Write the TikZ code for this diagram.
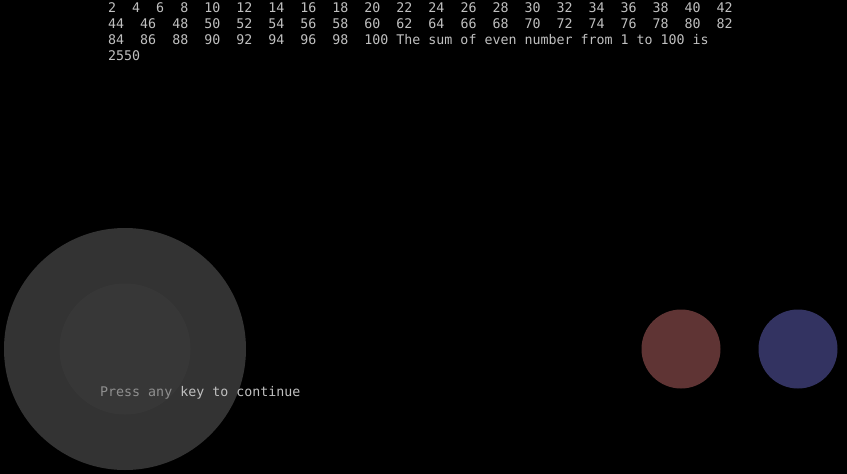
\documentclass[tikz,border=0pt]{standalone}
\usepackage{fontspec}
\setmonofont{DejaVu Sans Mono}
\definecolor{term}{HTML}{C0C0C0}
\definecolor{padring}{HTML}{333333}
\definecolor{knob}{HTML}{404040}
\definecolor{btnred}{HTML}{5F3434}
\definecolor{btnblue}{HTML}{333361}

\begin{document}
\begin{tikzpicture}[x=1pt,y=-1pt]
      \fill[black] (0,0) rectangle (847,474);
      \useasboundingbox (0,0) rectangle (847,474);
      \begin{scope}[every node/.style={circle,inner sep=0pt}]
        \node[fill=padring,minimum size=242] (pad) at (125,349) {};
      \end{scope}
      \begin{scope}[every node/.style={anchor=base west,inner sep=0pt,text=term,
          font=\ttfamily\fontsize{13.3}{16}\selectfont}]
        \node (l1) at (108,12) {2~~4~~6~~8~~10~~12~~14~~16~~18~~20~~22~~24~~26~~28~~30~~32~~34~~36~~38~~40~~42};
        \node (l2) at (108,28) {44~~46~~48~~50~~52~~54~~56~~58~~60~~62~~64~~66~~68~~70~~72~~74~~76~~78~~80~~82};
        \node (l3) at (108,44) {84~~86~~88~~90~~92~~94~~96~~98~~100 The sum of even number from 1 to 100 is};
        \node (l4) at (108,60) {2550};
        \node (prompt) at (100,396) {Press any key to continue};
      \end{scope}
      \begin{scope}[every node/.style={circle,inner sep=0pt}]
        \node[fill=knob,fill opacity=0.38,minimum size=131] (knob) at (125,349) {};
        \node[fill=btnred,minimum size=79] (btnA) at (681,349) {};
        \node[fill=btnblue,minimum size=79] (btnB) at (798,349) {};
      \end{scope}
    \end{tikzpicture}
\end{document}
